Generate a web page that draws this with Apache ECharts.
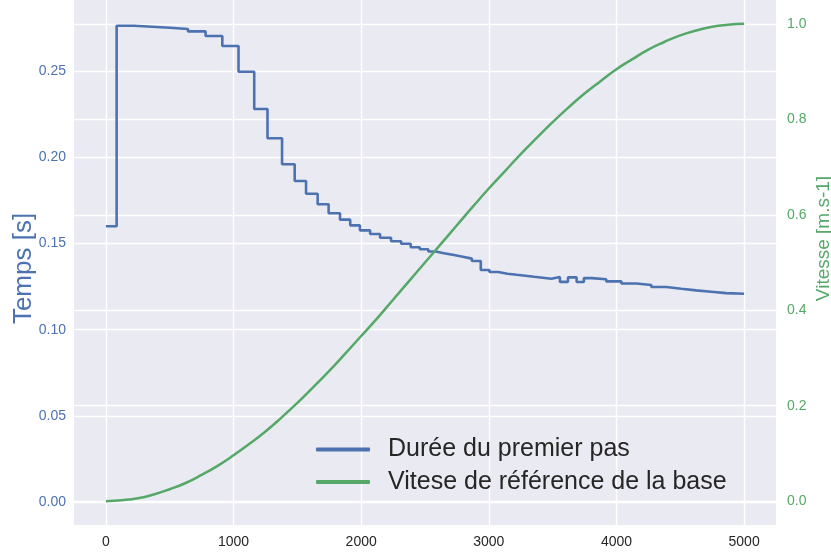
<!DOCTYPE html>
<html>
<head>
<meta charset="utf-8">
<script src="https://cdn.jsdelivr.net/npm/echarts@6/dist/echarts.min.js"></script>
<style>
html,body{margin:0;padding:0;background:#ffffff;}
#chart{width:831px;height:554px;}
</style>
</head>
<body>
<div id="chart"></div>
<script>
// Step series: "Durée du premier pas" (start x of each step, value held until next x)
const stepX = [0, 84, 221, 362, 502, 643, 781, 912, 1039, 1162,
  1266, 1380, 1479, 1568, 1659, 1745, 1834, 1914, 1990, 2070,
  2148, 2234, 2313, 2388, 2459, 2526, 2584, 2648, 2727, 2797,
  2867, 2937, 3005, 3073, 3146, 3219, 3287, 3354, 3422, 3490,
  3557, 3620, 3688, 3745, 3807, 3920, 4039, 4156, 4273, 4391,
  4508, 4625, 4742, 4859, 5000];
const stepY = [0.160, 0.2763, 0.2757, 0.2751, 0.2744, 0.2730, 0.2703, 0.2645, 0.2496, 0.2280,
  0.2110, 0.1959, 0.1862, 0.1788, 0.1727, 0.1675, 0.1638, 0.1605, 0.1576, 0.1555,
  0.1533, 0.1513, 0.1498, 0.1478, 0.1466, 0.1453, 0.1443, 0.1433, 0.1423, 0.1412,
  0.1398, 0.1346, 0.1334, 0.1324, 0.1318, 0.1313, 0.1307, 0.1301, 0.1295, 0.1305,
  0.1277, 0.1303, 0.1276, 0.1299, 0.1292, 0.1280, 0.1268, 0.1259, 0.1247, 0.1237,
  0.1228, 0.1220, 0.1212, 0.1208, 0.1205];

// Speed series: "Vitese de référence de la base" (readings every 125)
const speedX = [0, 125, 250, 375, 500, 625, 750, 875, 1000, 1125,
  1250, 1375, 1500, 1625, 1750, 1875, 2000, 2125, 2250, 2375,
  2500, 2625, 2750, 2875, 3000, 3125, 3250, 3375, 3500, 3625,
  3750, 3875, 4000, 4125, 4250, 4375, 4500, 4625, 4750, 4875, 5000];
const speedY = [0.000, 0.002, 0.006, 0.014, 0.025, 0.038, 0.055, 0.074, 0.096, 0.120,
  0.146, 0.175, 0.206, 0.239, 0.273, 0.309, 0.346, 0.383, 0.422, 0.461,
  0.500, 0.539, 0.578, 0.617, 0.655, 0.691, 0.727, 0.761, 0.794, 0.825,
  0.854, 0.880, 0.905, 0.926, 0.946, 0.962, 0.976, 0.986, 0.994, 0.998, 1.000];

const seriesNames = ['Durée du premier pas', 'Vitese de référence de la base'];
const axisNames = ['Temps [s]', 'Vitesse [m.s-1]'];

const BLUE = '#4c72b0', GREEN = '#55a868', TXT = '#262626';

const chart = echarts.init(document.getElementById('chart'), null, {renderer: 'canvas'});
chart.setOption({
  animation: false,
  backgroundColor: '#ffffff',
  textStyle: {fontFamily: 'Liberation Sans'},
  grid: {left: 74, right: 55, top: 0, bottom: 29, show: true, backgroundColor: '#eaeaf2', borderWidth: 0,
    containLabel: false, outerBoundsMode: 'none'},
  legend: {
    orient: 'vertical', left: 316, top: 437, padding: 0,
    itemWidth: 54, itemHeight: 4, itemGap: 7.5, icon: 'roundRect',
    textStyle: {fontSize: 25, color: TXT, fontFamily: 'Liberation Sans', padding: [0, 0, 0, 13]},
    data: seriesNames
  },
  xAxis: {
    type: 'value', min: -250, max: 5250, splitNumber: 5,
    axisLine: {show: false}, axisTick: {show: false},
    axisLabel: {show: true, color: TXT, fontSize: 14, margin: 10, showMinLabel: false, showMaxLabel: false,
      formatter: v => String(Math.round(v))},
    splitLine: {show: true, showMinLine: false, showMaxLine: false, lineStyle: {color: '#ffffff', width: 1.4}}
  },
  yAxis: [{
    type: 'value', min: -0.0133, max: 0.2912, splitNumber: 6, position: 'left',
    name: axisNames[0], nameLocation: 'middle', nameGap: 37, nameRotate: 90, nameMoveOverlap: false,
    nameTextStyle: {color: BLUE, fontSize: 26, fontFamily: 'Liberation Sans', padding: [0, 12, 0, 0]},
    axisLine: {show: false}, axisTick: {show: false},
    axisLabel: {color: BLUE, fontSize: 14, margin: 8, showMinLabel: false, showMaxLabel: false,
      formatter: v => v.toFixed(2)},
    splitLine: {show: true, showMinLine: false, showMaxLine: false, lineStyle: {color: '#ffffff', width: 1.4}}
  }, {
    type: 'value', min: -0.05, max: 1.05, splitNumber: 5, position: 'right',
    name: axisNames[1], nameLocation: 'middle', nameGap: 38, nameRotate: 90, nameMoveOverlap: false,
    nameTextStyle: {color: GREEN, fontSize: 19, fontFamily: 'Liberation Sans', padding: [0, 0, 0, 48]},
    axisLine: {show: false}, axisTick: {show: false},
    axisLabel: {color: GREEN, fontSize: 14, margin: 11, showMinLabel: false, showMaxLabel: false,
      formatter: v => v.toFixed(1)},
    splitLine: {show: true, showMinLine: false, showMaxLine: false, lineStyle: {color: '#ffffff', width: 1.4}}
  }],
  series: [{
    name: seriesNames[0], type: 'line', yAxisIndex: 0, step: 'end',
    symbol: 'none', showSymbol: false,
    lineStyle: {color: BLUE, width: 2.6}, itemStyle: {color: BLUE},
    data: stepX.map((x, i) => [x, stepY[i]]), z: 3
  }, {
    name: seriesNames[1], type: 'line', yAxisIndex: 1, smooth: true,
    symbol: 'none', showSymbol: false,
    lineStyle: {color: GREEN, width: 2.5}, itemStyle: {color: GREEN},
    data: speedX.map((x, i) => [x, speedY[i]]), z: 3
  }]
});
</script>
</body>
</html>
